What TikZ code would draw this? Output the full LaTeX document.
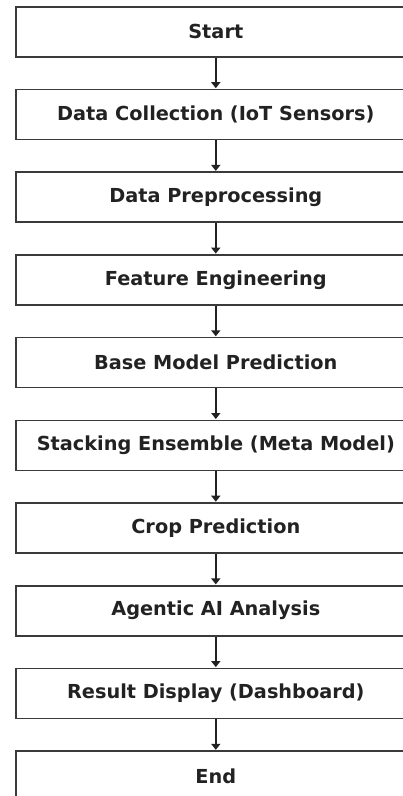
\documentclass[tikz,border=0pt]{standalone}
\usepackage{fontspec}
\setmainfont{DejaVu Sans}
\usetikzlibrary{arrows.meta}
\definecolor{boxline}{HTML}{3A3A3A}
\definecolor{txt}{HTML}{222222}
\begin{document}
\begin{tikzpicture}[x=1pt,y=1pt,
  stepbox/.style={draw=boxline, line width=1.6pt, fill=white, minimum width=400pt, minimum height=50pt, inner sep=0pt, font=\bfseries\fontsize{19.3}{21}\selectfont, text=txt, anchor=north west},
  flow/.style={draw=txt, line width=1.8pt, -{Triangle[length=6pt,width=9pt]}, shorten >=0.5pt}]
\useasboundingbox (0,0) rectangle (403,-796);
\clip (0,0) rectangle (403,-796);
\fill[white] (0,0) rectangle (403,-796);
\node[stepbox] (n0) at (15,-6) {\makebox[400pt]{Start}};
\node[stepbox] (n1) at (15,-88.7) {\makebox[400pt]{Data Collection (IoT Sensors)}};
\node[stepbox] (n2) at (15,-171.4) {\makebox[400pt]{Data Preprocessing}};
\node[stepbox] (n3) at (15,-254.1) {\makebox[400pt]{Feature Engineering}};
\node[stepbox] (n4) at (15,-336.8) {\makebox[400pt]{Base Model Prediction}};
\node[stepbox] (n5) at (15,-419.5) {\makebox[400pt]{Stacking Ensemble (Meta Model)}};
\node[stepbox] (n6) at (15,-502.2) {\makebox[400pt]{Crop Prediction}};
\node[stepbox] (n7) at (15,-584.9) {\makebox[400pt]{Agentic AI Analysis}};
\node[stepbox] (n8) at (15,-667.6) {\makebox[400pt]{Result Display (Dashboard)}};
\node[stepbox] (n9) at (15,-750.3) {\makebox[400pt]{End}};
\foreach \a/\b in {n0/n1,n1/n2,n2/n3,n3/n4,n4/n5,n5/n6,n6/n7,n7/n8,n8/n9}
  \draw[flow] (\a.south) -- (\b.north);
\end{tikzpicture}
\end{document}
